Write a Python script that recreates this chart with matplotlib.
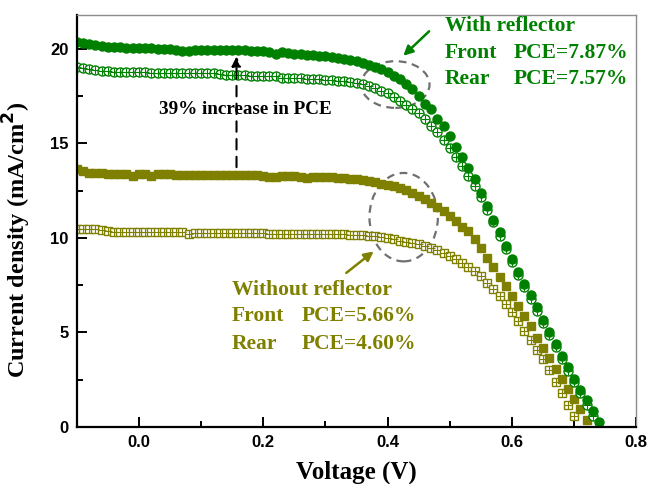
import matplotlib

matplotlib.use("Agg")
import matplotlib.pyplot as plt
from matplotlib.patches import Ellipse

# voltage sweep (V)
voltage = [-0.10, -0.09, -0.08, -0.07, -0.06, -0.05, -0.04, -0.03, -0.02, -0.01,
           0.00, 0.01, 0.02, 0.03, 0.04, 0.05, 0.06, 0.07, 0.08, 0.09,
           0.10, 0.11, 0.12, 0.13, 0.14, 0.15, 0.16, 0.17, 0.18, 0.19,
           0.20, 0.21, 0.22, 0.23, 0.24, 0.25, 0.26, 0.27, 0.28, 0.29,
           0.30, 0.31, 0.32, 0.33, 0.34, 0.35, 0.36, 0.37, 0.38, 0.39,
           0.40, 0.41, 0.42, 0.43, 0.44, 0.45, 0.46, 0.47, 0.48, 0.49,
           0.50, 0.51, 0.52, 0.53, 0.54, 0.55, 0.56, 0.57, 0.58, 0.59,
           0.60, 0.61, 0.62, 0.63, 0.64, 0.65, 0.66, 0.67, 0.68, 0.69,
           0.70, 0.71, 0.72, 0.73, 0.74]

# current density (mA/cm2)
j_front_refl = [20.35, 20.30, 20.25, 20.20, 20.15, 20.12, 20.10, 20.10, 20.08, 20.08,
                20.05, 20.04, 20.03, 20.02, 20.00, 20.00, 19.93, 19.92, 19.92, 19.94,
                19.95, 19.95, 19.95, 19.95, 19.96, 19.97, 19.96, 19.94, 19.92, 19.90,
                19.88, 19.86, 19.76, 19.82, 19.80, 19.73, 19.71, 19.69, 19.67, 19.65,
                19.62, 19.58, 19.54, 19.49, 19.43, 19.36, 19.28, 19.18, 19.06, 18.92,
                18.76, 18.58, 18.40, 18.17, 17.90, 17.50, 17.10, 16.80, 16.30, 15.90,
                15.40, 14.80, 14.30, 13.70, 13.10, 12.40, 11.70, 10.95, 10.30, 9.60,
                8.90, 8.20, 7.56, 6.98, 6.37, 5.68, 5.00, 4.38, 3.76, 3.16,
                2.56, 1.96, 1.43, 0.86, 0.28]

j_rear_refl = [19.05, 19.00, 18.95, 18.90, 18.85, 18.82, 18.80, 18.80, 18.78, 18.78,
               18.76, 18.76, 18.75, 18.75, 18.75, 18.74, 18.74, 18.73, 18.73, 18.72,
               18.72, 18.72, 18.71, 18.70, 18.62, 18.60, 18.60, 18.60, 18.59, 18.58,
               18.58, 18.57, 18.55, 18.48, 18.46, 18.45, 18.44, 18.43, 18.42, 18.40,
               18.38, 18.36, 18.33, 18.30, 18.25, 18.20, 18.13, 18.05, 17.95, 17.80,
               17.65, 17.45, 17.25, 17.05, 16.85, 16.60, 16.30, 15.95, 15.60, 15.20,
               14.75, 14.30, 13.80, 13.28, 12.75, 12.15, 11.50, 10.82, 10.12, 9.42,
               8.72, 8.03, 7.38, 6.78, 6.16, 5.50, 4.85, 4.22, 3.60, 2.98,
               2.38, 1.78, 1.17, 0.55]

j_front_bare = [13.65, 13.55, 13.45, 13.42, 13.42, 13.40, 13.40, 13.40, 13.38, 13.30,
                13.38, 13.38, 13.30, 13.36, 13.36, 13.36, 13.35, 13.35, 13.35, 13.34,
                13.34, 13.34, 13.33, 13.33, 13.33, 13.33, 13.32, 13.32, 13.32, 13.31,
                13.30, 13.22, 13.22, 13.28, 13.28, 13.27, 13.25, 13.18, 13.20, 13.22,
                13.22, 13.20, 13.18, 13.16, 13.13, 13.10, 13.06, 13.01, 12.95, 12.88,
                12.81, 12.73, 12.64, 12.53, 12.40, 12.24, 12.06, 11.86, 11.64, 11.40,
                11.14, 10.88, 10.60, 10.35, 9.95, 9.45, 8.95, 8.45, 7.93, 7.44,
                6.94, 6.41, 5.85, 5.32, 4.73, 4.17, 3.62, 3.07, 2.54, 2.01,
                1.48, 0.94, 0.37]

j_rear_bare = [10.50, 10.48, 10.46, 10.45, 10.44, 10.35, 10.34, 10.33, 10.32, 10.32,
               10.31, 10.31, 10.30, 10.30, 10.30, 10.30, 10.29, 10.29, 10.22, 10.25,
               10.26, 10.26, 10.26, 10.25, 10.25, 10.25, 10.25, 10.24, 10.24, 10.24,
               10.24, 10.23, 10.23, 10.23, 10.23, 10.22, 10.22, 10.22, 10.21, 10.21,
               10.20, 10.20, 10.19, 10.19, 10.18, 10.17, 10.15, 10.12, 10.08, 10.03,
               9.98, 9.92, 9.86, 9.80, 9.74, 9.66, 9.57, 9.47, 9.35, 9.22,
               9.06, 8.88, 8.67, 8.45, 8.23, 7.96, 7.60, 7.31, 6.94, 6.52,
               6.06, 5.58, 5.10, 4.61, 4.08, 3.59, 3.02, 2.40, 1.79, 1.17,
               0.60]

GREEN = "#008000"
OLIVE = "#808000"
SERIF = "Liberation Serif"
SANS = "Liberation Sans"

fig = plt.figure(figsize=(6.5, 4.84), dpi=100)
ax = fig.add_axes([0.118, 0.118, 0.861, 0.851])

# rear curves first so the filled front markers sit on top
v = voltage[:len(j_rear_bare)]
ax.plot(v, j_rear_bare, ls="none", marker="s", ms=6, mfc="white", mec=OLIVE, mew=1.0)
ax.plot(v, j_rear_bare, ls="none", marker="+", ms=5.5, color=OLIVE, mew=0.8)
v = voltage[:len(j_front_bare)]
ax.plot(v, j_front_bare, ls="none", marker="s", ms=6, color=OLIVE, mec=OLIVE)

v = voltage[:len(j_rear_refl)]
ax.plot(v, j_rear_refl, ls="none", marker="o", ms=6.5, mfc="white", mec=GREEN, mew=1.0)
ax.plot(v, j_rear_refl, ls="none", marker="+", ms=6, color=GREEN, mew=0.8)
v = voltage[:len(j_front_refl)]
ax.plot(v, j_front_refl, ls="none", marker="o", ms=6.5, color=GREEN, mec=GREEN)

ax.set_xlim(-0.1, 0.8)
ax.set_ylim(0, 21.8)
ax.set_xticks([0.0, 0.2, 0.4, 0.6, 0.8])
ax.set_yticks([0, 5, 10, 15, 20])
ax.set_xticks([0.1, 0.3, 0.5, 0.7], minor=True)
ax.set_yticks([2.5, 7.5, 12.5, 17.5], minor=True)
ax.set_xticklabels(["0.0", "0.2", "0.4", "0.6", "0.8"])
ax.tick_params(which="both", direction="in", width=1.4, top=False, right=False)
ax.tick_params(which="major", length=7, pad=6)
ax.tick_params(which="minor", length=4)
for lab in ax.get_xticklabels() + ax.get_yticklabels():
    lab.set_fontfamily(SANS)
    lab.set_fontweight("bold")
    lab.set_fontsize(12)

for side in ("left", "bottom"):
    ax.spines[side].set_linewidth(1.6)
for side in ("top", "right"):
    ax.spines[side].set_linewidth(1.0)
    ax.spines[side].set_color("#8c8c8c")

ax.set_xlabel("Voltage (V)", fontfamily=SERIF, fontweight="bold", fontsize=18)
ax.set_ylabel("Current density (mA/cm$^\\mathbf{2}$)", fontfamily=SERIF,
              fontweight="bold", fontsize=17.5)
ax.xaxis.set_label_coords(0.5, -0.082)
ax.yaxis.set_label_coords(-0.078, 0.455)

# dashed arrow showing the gain
ax.annotate("", xy=(0.157, 19.75), xytext=(0.157, 13.6),
            arrowprops=dict(arrowstyle="-|>", color="black", lw=1.5,
                            linestyle=(0, (5, 3.5)), mutation_scale=14))
ax.text(0.032, 16.8, "39% increase in PCE", fontfamily=SERIF, fontweight="bold",
        fontsize=13.8, va="center", ha="left")

# highlight ellipses
ax.add_patch(Ellipse((0.4124, 18.12), 0.110, 2.47, fill=False, ec="#707070",
                     lw=1.6, ls=(0, (3.5, 2.5))))
ax.add_patch(Ellipse((0.4258, 11.10), 0.110, 4.68, fill=False, ec="#707070",
                     lw=1.6, ls=(0, (3.5, 2.5))))

# with reflector labels
ax.annotate("", xy=(0.422, 19.54), xytext=(0.47, 21.04),
            arrowprops=dict(arrowstyle="-|>", color=GREEN, lw=1.8, mutation_scale=14))
txt = dict(fontfamily=SERIF, fontweight="bold", fontsize=15.5, va="center", ha="left")
ax.text(0.4916, 21.21, "With reflector", color=GREEN, **txt)
ax.text(0.4916, 19.80, "Front", color=GREEN, **txt)
ax.text(0.6035, 19.80, "PCE=7.87%", color=GREEN, **txt)
ax.text(0.4916, 18.39, "Rear", color=GREEN, **txt)
ax.text(0.6035, 18.39, "PCE=7.57%", color=GREEN, **txt)

# without reflector labels
ax.annotate("", xy=(0.381, 9.38), xytext=(0.330, 8.06),
            arrowprops=dict(arrowstyle="-|>", color=OLIVE, lw=1.8, mutation_scale=14))
ax.text(0.149, 7.26, "Without reflector", color=OLIVE, **txt)
ax.text(0.149, 5.85, "Front", color=OLIVE, **txt)
ax.text(0.262, 5.85, "PCE=5.66%", color=OLIVE, **txt)
ax.text(0.149, 4.38, "Rear", color=OLIVE, **txt)
ax.text(0.262, 4.38, "PCE=4.60%", color=OLIVE, **txt)

fig.savefig("out.png", dpi=100)
plt.close(fig)
